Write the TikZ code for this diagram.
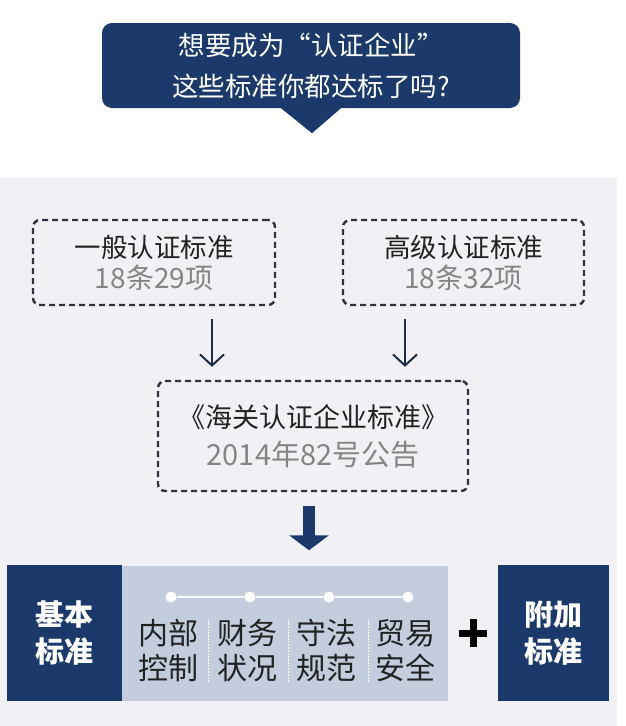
\documentclass[tikz,border=0pt]{standalone}
\usepackage{fontspec}
\setmainfont{Noto Sans CJK SC}
\usetikzlibrary{arrows.meta,positioning}

\definecolor{navy}{HTML}{1B3A6B}
\definecolor{lightblue}{HTML}{C3CDDD}
\definecolor{bggray}{HTML}{F1F0F4}
\definecolor{dashc}{HTML}{2D3340}
\definecolor{arrc}{HTML}{1F2D45}
\definecolor{subgray}{HTML}{858585}
\definecolor{boxtext}{HTML}{222222}

\begin{document}
\begin{tikzpicture}[
      x=1pt, y=-1pt,
      node distance=0pt,
      dbox/.style={draw=dashc, line width=2.4pt, dash pattern=on 6pt off 4pt, rounded corners=7pt, align=center, inner sep=0pt, text=boxtext},
      navybox/.style={fill=navy, text=white, align=center, inner sep=0pt, font=\bfseries\fontsize{29}{37}\selectfont},
      col/.style={align=center, inner sep=0pt, text=boxtext, font=\fontsize{30}{35}\selectfont},
      dot/.style={circle, fill=white, inner sep=0pt, minimum size=11pt},
      sep/.style={draw=white, line width=1pt, dash pattern=on 1.5pt off 1.5pt},
      thinarr/.style={-{Straight Barb[length=11pt,width=24pt]}, line width=2pt, draw=arrc, shorten <=13pt, shorten >=13pt},
      bigarr/.style={-{Triangle[length=15pt,width=39pt]}, line width=12pt, draw=navy, shorten <=14pt, shorten >=15pt}
    ]
      \useasboundingbox (0,0) rectangle (625,726);
      \fill[white] (0,0) rectangle (625,726);
      \fill[bggray] (0,178) rectangle (617,726);

      % question bubble
      \node[fill=navy, rounded corners=10pt, minimum width=418pt, minimum height=85pt, inner sep=0pt, text=white, align=center, font=\fontsize{26.5}{41}\selectfont] (ask) at (311,65.5) {想要成为“认证企业”\\这些标准你都达标了吗?};
      \fill[navy] ([xshift=-30pt]ask.south) -- ([xshift=1pt,yshift=-25pt]ask.south) -- ([xshift=30pt]ask.south) -- cycle;

      % two levels
      \node[dbox, minimum width=242pt, minimum height=85pt, font=\fontsize{26.5}{31}\selectfont] (gen) at (154,262.5) {一般认证标准\\{\color{subgray}\fontsize{28}{31}\selectfont 18条29项}};
      \node[dbox, minimum width=241pt, minimum height=85pt, font=\fontsize{26.5}{31}\selectfont] (adv) at (463.5,262.5) {高级认证标准\\{\color{subgray}\fontsize{28}{31}\selectfont 18条32项}};
      \node[dbox, minimum width=310pt, minimum height=110pt, font=\fontsize{27}{38}\selectfont] (std) at (313,436) {《海关认证企业标准》\\{\color{subgray}\fontsize{29}{38}\selectfont 2014年82号公告}};

      \coordinate (ga) at ([xshift=58pt]gen.south);
      \coordinate (aa) at ([xshift=-58.5pt]adv.south);
      \draw[thinarr] (ga) -- (ga |- std.north);
      \draw[thinarr] (aa) -- (aa |- std.north);

      % bottom row
      \node[navybox, minimum width=115pt, minimum height=136pt] (basic) at (64.5,633) {基本\\标准};
      \node[fill=lightblue, minimum width=326pt, minimum height=135pt, inner sep=0pt, right=of basic] (core) {};
      \node[navybox, minimum width=111pt, minimum height=136pt, right=49pt of core] (extra) {附加\\标准};

      \coordinate (sa) at ([xshift=-4pt]std.south);
      \draw[bigarr] (sa) -- (sa |- core.north);

      \node[dot] (d1) at (171,597) {};
      \node[dot] (d2) at (250,597) {};
      \node[dot] (d3) at (329,597) {};
      \node[dot] (d4) at (408,597) {};
      \draw[white, line width=1.5pt] (d1) -- (d2) -- (d3) -- (d4);

      \node[col] (c1) at (168,650.5) {内部\\控制};
      \node[col] (c2) at (247,650.5) {财务\\状况};
      \node[col] (c3) at (326,650.5) {守法\\规范};
      \node[col] (c4) at (405,650.5) {贸易\\安全};
      \draw[sep] (208,620) -- (208,682);
      \draw[sep] (288,620) -- (288,682);
      \draw[sep] (368,620) -- (368,682);

      % plus sign
      \draw[line width=7pt] (459,633) -- (487,633) (473,619) -- (473,647);
    \end{tikzpicture}
\end{document}
